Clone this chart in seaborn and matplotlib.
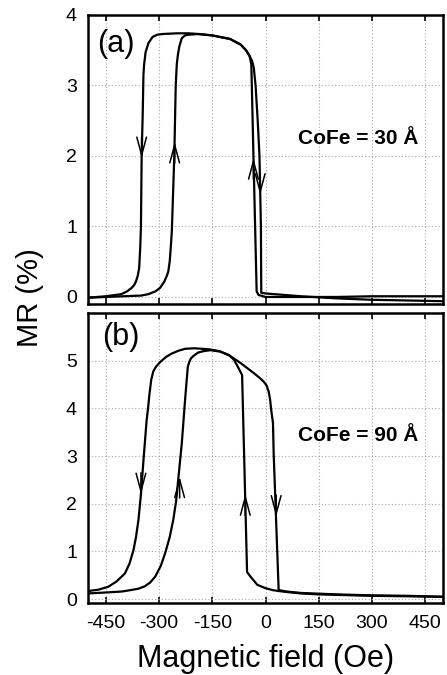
import numpy as np
import pandas as pd
import matplotlib
matplotlib.use("Agg")
import matplotlib.pyplot as plt
import seaborn as sns

# ---- panel (a): CoFe = 30 A ----
a_dec_field = [500, 400, 300, 200, 100, 0, -20, -25, -34, -40, -45, -55, -70, -100, -150,
               -189, -217, -250, -290, -305, -318, -330, -338, -342, -344, -346, -349,
               -351, -353, -356, -360, -365, -370, -377, -390, -406, -450, -500]
a_dec_mr = [0.01, 0.01, 0.01, 0.0, 0.0, 0.0, 0.03, 0.08, 2.0, 3.3, 3.42, 3.5, 3.58, 3.66,
            3.71, 3.73, 3.74, 3.74, 3.73, 3.72, 3.69, 3.6, 3.47, 3.3, 3.15, 2.6, 2.0,
            1.0, 0.7, 0.41, 0.3, 0.22, 0.17, 0.13, 0.08, 0.04, 0.01, -0.01]

a_inc_field = [-500, -450, -400, -350, -330, -310, -297, -285, -278, -274, -270, -267,
               -264, -257, -253, -250, -247, -243, -236, -227, -217, -189, -150, -100,
               -70, -55, -45, -38, -33, -28, -25, -22, -17, -13, -12, 0, 100, 200, 300,
               400, 500]
a_inc_mr = [-0.01, 0.0, 0.01, 0.02, 0.04, 0.08, 0.13, 0.22, 0.3, 0.36, 0.5, 0.7,
            0.93, 2.0, 3.0, 3.3, 3.43, 3.55, 3.67, 3.71, 3.72, 3.73, 3.71, 3.66,
            3.58, 3.5, 3.42, 3.35, 3.25, 3.0, 2.75, 2.5, 2.0, 1.0, 0.06, 0.05, 0.01,
            -0.02, -0.04, -0.05, -0.06]

# ---- panel (b): CoFe = 90 A ----
b_dec_field = [500, 400, 300, 200, 150, 100, 60, 37, 20, 0, -23, -42, -52, -66, -80,
               -89, -103, -130, -160, -200, -226, -245, -264, -280, -297, -308, -316,
               -322, -327, -331, -335, -344, -351, -358, -365, -372, -383, -396, -420,
               -443, -470, -500]
b_dec_mr = [0.05, 0.06, 0.07, 0.09, 0.1, 0.12, 0.15, 0.17, 0.19, 0.23, 0.3, 0.47, 0.57,
            4.7, 4.9, 5.02, 5.12, 5.2, 5.24, 5.26, 5.25, 5.21, 5.15, 5.08, 4.97, 4.88,
            4.78, 4.6, 4.3, 4.0, 3.75, 2.9, 2.2, 1.66, 1.3, 1.03, 0.75, 0.54, 0.37,
            0.26, 0.2, 0.17]

b_inc_field = [-500, -450, -405, -380, -358, -340, -325, -311, -295, -283, -270, -260,
               -252, -246, -236, -226, -219, -215, -210, -203, -190, -175, -155, -127,
               -100, -70, -33, -15, -5, 3, 9, 13, 16, 19, 21, 23, 37, 60, 100, 200, 300,
               400, 500]
b_inc_mr = [0.12, 0.14, 0.16, 0.19, 0.22, 0.27, 0.35, 0.47, 0.7, 0.96, 1.3, 1.66,
            2.05, 2.5, 3.26, 4.24, 4.87, 4.97, 5.05, 5.1, 5.17, 5.2, 5.22, 5.19,
            5.1, 4.95, 4.74, 4.63, 4.56, 4.48, 4.35, 4.18, 3.97, 3.8, 3.7, 3.05, 0.19,
            0.16, 0.13, 0.1, 0.08, 0.07, 0.05]

# sweep-direction arrows: field, tip MR, direction (+1 up, -1 down)
a_arrow_field = [-349, -256, -34, -15]
a_arrow_mr = [1.97, 2.2, 1.97, 1.45]
a_arrow_dir = [-1, 1, 1, -1]
b_arrow_field = [-351, -242, -57, 30]
b_arrow_mr = [2.2, 2.57, 2.2, 1.73]
b_arrow_dir = [-1, 1, 1, -1]

x_ticks = [-450, -300, -150, 0, 150, 300, 450]
a_yticks = [0, 1, 2, 3, 4]
b_yticks = [0, 1, 2, 3, 4, 5]

sns.set_theme(style="ticks")
plt.rcParams['font.family'] = ['Liberation Sans', 'DejaVu Sans']
plt.rcParams['axes.unicode_minus'] = False
plt.rcParams['text.color'] = 'black'
plt.rcParams['axes.labelcolor'] = 'black'
plt.rcParams['xtick.color'] = 'black'
plt.rcParams['ytick.color'] = 'black'

fig = plt.figure(figsize=(4.47, 6.75), dpi=100)
ax_a = fig.add_axes([0.197, 0.5496, 0.794, 0.4282])
ax_b = fig.add_axes([0.197, 0.1067, 0.794, 0.4296])


def draw_panel(ax, dec_f, dec_m, inc_f, inc_m, arr_f, arr_m, arr_d, ylim, yticks,
               tag, label, label_y, tag_x, tag_y, alen):
    df = pd.DataFrame({'field': dec_f + inc_f,
                       'mr': dec_m + inc_m,
                       'branch': ['dec'] * len(dec_f) + ['inc'] * len(inc_f)})
    sns.lineplot(data=df, x='field', y='mr', units='branch', estimator=None,
                 sort=False, color='black', lw=1.6, ax=ax)
    for f, m, d in zip(arr_f, arr_m, arr_d):
        ax.annotate('', xy=(f, m), xytext=(f, m - d * alen),
                    arrowprops=dict(arrowstyle='->,head_length=1.3,head_width=0.35',
                                    color='black', lw=1.1, mutation_scale=10,
                                    shrinkA=0, shrinkB=0))
    ax.set_xlim(-500, 500)
    ax.set_ylim(*ylim)
    ax.set_xticks(x_ticks)
    ax.set_yticks(yticks)
    ax.grid(True, linestyle=(0, (1, 2)), color='#a8a8a8', lw=0.8)
    ax.tick_params(axis='x', direction='in', top=True, bottom=True, length=4,
                   width=1.2, labelsize=14, pad=9)
    ax.tick_params(axis='y', direction='in', length=0, labelsize=14, pad=8)
    for s in ax.spines.values():
        s.set_linewidth(1.8)
        s.set_color('black')
    ax.set_xlabel('')
    ax.set_ylabel('')
    ax.text(tag_x, tag_y, tag, transform=ax.transAxes, fontsize=22,
            ha='left', va='top')
    ax.text(262, label_y, label, fontsize=15, fontweight='bold',
            ha='center', va='center')


draw_panel(ax_a, a_dec_field, a_dec_mr, a_inc_field, a_inc_mr,
           a_arrow_field, a_arrow_mr, a_arrow_dir, (-0.1, 4.0), a_yticks,
           '(a)', 'CoFe = 30 Å', 2.25, 0.025, 0.95, 0.3)
draw_panel(ax_b, b_dec_field, b_dec_mr, b_inc_field, b_inc_mr,
           b_arrow_field, b_arrow_mr, b_arrow_dir, (-0.08, 6.0), b_yticks,
           '(b)', 'CoFe = 90 Å', 3.44, 0.04, 0.97, 0.45)

ax_a.tick_params(axis='x', labelbottom=False)
ax_b.set_xlabel('Magnetic field (Oe)', fontsize=22, labelpad=8)
fig.text(0.067, 0.559, 'MR (%)', rotation=90, fontsize=21, ha='center', va='center')

fig.savefig('out.png', dpi=100)
